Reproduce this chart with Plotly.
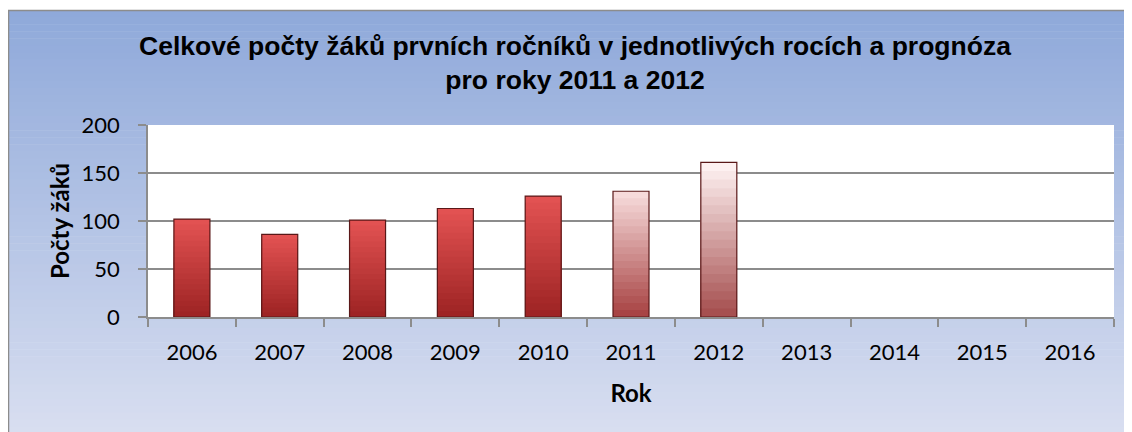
import plotly.graph_objects as go

years = ["2006", "2007", "2008", "2009", "2010", "2011", "2012", "2013", "2014", "2015", "2016"]
values = [102, 86, 101, 113, 126, 131, 161, None, None, None, None]
top_colors = ["#e25252", "#e25252", "#e25252", "#e25252", "#e25252", "#f6dada", "#fdf0f0", None, None, None, None]
bot_colors = ["#9e2424", "#9e2424", "#9e2424", "#9e2424", "#9e2424", "#a84444", "#a65050", None, None, None, None]

title_text = "Celkové počty žáků prvních ročníků v jednotlivých rocích a prognóza<br>pro roky 2011 a 2012"
y_title = "Počty žáků"
x_title = "Rok"

# the page body adds an 8px offset, so figure coords = screen coords - 8
W, H = 1132, 432
L, R, T, B = 140, 26, 117, 123


def hex2rgb(h):
    h = h.lstrip("#")
    return tuple(int(h[i:i + 2], 16) for i in (0, 2, 4))


def mix(c1, c2, t):
    a, b = hex2rgb(c1), hex2rgb(c2)
    return "rgb(%d,%d,%d)" % tuple(round(a[i] + (b[i] - a[i]) * t) for i in range(3))


fig = go.Figure()

steps = 18
for k in range(steps):
    frac = 1 - k / steps
    ys, cols = [], []
    for v, tc, bc in zip(values, top_colors, bot_colors):
        if v is None:
            ys.append(None)
            cols.append("rgba(0,0,0,0)")
        else:
            ys.append(v * frac)
            cols.append(mix(tc, bc, k / (steps - 1)))
    fig.add_trace(go.Bar(x=years, y=ys, marker=dict(color=cols, line=dict(width=0)),
                         showlegend=False, hoverinfo="skip"))

fig.add_trace(go.Bar(x=years, y=values, name="Počty žáků",
                     marker=dict(color="rgba(0,0,0,0)", line=dict(color="#5a1818", width=1.2)),
                     showlegend=False))


def px2paper_x(px):
    return (px - L) / (W - L - R)


def px2paper_y(py):
    return (H - B - py) / (H - T - B)


shapes = []
top_c, bot_c = "#8fa9da", "#d8def0"
y0px, y1px = 2, 426
nstrips = 60
for i in range(nstrips):
    a = y0px + (y1px - y0px) * i / nstrips
    b = y0px + (y1px - y0px) * (i + 1) / nstrips + 0.6
    shapes.append(dict(type="rect", xref="paper", yref="paper",
                       x0=px2paper_x(0), x1=px2paper_x(W + 2),
                       y0=px2paper_y(a), y1=px2paper_y(b),
                       fillcolor=mix(top_c, bot_c, i / (nstrips - 1)),
                       line=dict(width=0), layer="below"))
shapes.append(dict(type="rect", xref="paper", yref="paper", x0=0, x1=1, y0=0, y1=1,
                   fillcolor="white", line=dict(width=0), layer="below"))
shapes.append(dict(type="line", xref="paper", yref="paper",
                   x0=px2paper_x(0.5), x1=px2paper_x(0.5), y0=px2paper_y(2), y1=px2paper_y(H + 2),
                   line=dict(color="#8c8c8c", width=1.5), layer="below"))
shapes.append(dict(type="line", xref="paper", yref="paper",
                   x0=px2paper_x(0), x1=px2paper_x(W + 2), y0=px2paper_y(2.5), y1=px2paper_y(2.5),
                   line=dict(color="#8c8c8c", width=1.5), layer="below"))

fig.update_layout(
    width=W, height=H,
    margin=dict(l=L, r=R, t=T, b=B),
    paper_bgcolor="white",
    plot_bgcolor="rgba(0,0,0,0)",
    barmode="overlay",
    bargap=0.59,
    shapes=shapes,
    title=dict(text=title_text, x=567 / W, xanchor="center", xref="container",
               y=1 - 47 / H, yanchor="top", yref="container",
               font=dict(family="Liberation Sans", size=26.5, color="black", weight="bold")),
    font=dict(family="Lato", color="black"),
)

fig.update_xaxes(
    type="category", categoryorder="array", categoryarray=years,
    tickson="boundaries", ticks="outside", ticklen=8, tickcolor="#8c8c8c", tickwidth=1.5,
    showline=True, linecolor="#8c8c8c", linewidth=1.5,
    showgrid=False, tickfont=dict(family="Lato", size=22, color="black"),
    ticklabelstandoff=15,
    title=dict(text=x_title, font=dict(family="Lato", size=24, color="black", weight="bold"), standoff=21),
)
fig.update_yaxes(
    range=[0, 200], dtick=50, tick0=0,
    ticks="outside", ticklen=8, tickcolor="#8c8c8c", tickwidth=1.5,
    showline=True, linecolor="#8c8c8c", linewidth=1.5,
    showgrid=True, gridcolor="#8c8c8c", gridwidth=1.5,
    zeroline=False,
    tickfont=dict(family="Lato", size=22, color="black"),
    ticklabelstandoff=14,
    title=dict(text=y_title, font=dict(family="Lato", size=24, color="black", weight="bold"), standoff=5),
)

fig.write_html("out.html")
